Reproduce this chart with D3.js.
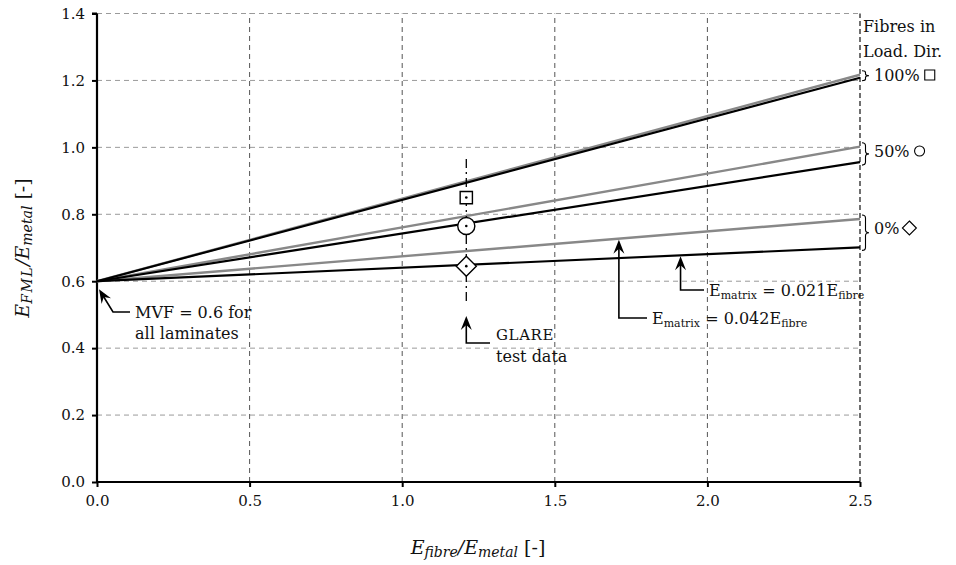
<!DOCTYPE html>
<html>
<head>
<meta charset="utf-8">
<script src="https://cdn.jsdelivr.net/npm/d3@7"></script>
<style>
  html, body { margin: 0; padding: 0; background: #fff; }
</style>
</head>
<body>
<svg id="chart" width="956" height="565"></svg>
<script>
// Stiffness of fibre metal laminates vs. fibre/metal modulus ratio (MVF = 0.6)
const xTicks = [0.0, 0.5, 1.0, 1.5, 2.0, 2.5];
const yTicks = [0.0, 0.2, 0.4, 0.6, 0.8, 1.0, 1.2, 1.4];
const ratioRange = [0, 2.5];
const startValue = 0.6;
const fibreShares = ["100%", "50%", "0%"];
const shareSymbols = ["square", "circle", "diamond"];
// end values at E_fibre/E_metal = 2.5
const endMatrix042 = [1.217, 1.002, 0.786];  // grey lines
const endMatrix021 = [1.208, 0.956, 0.701];  // black lines
// GLARE measurements
const glareRatio = 1.21;
const glareValues = [0.85, 0.765, 0.645];

const FONT = "DejaVu Serif";
const svg = d3.select("#chart");
const x = d3.scaleLinear().domain([0, 2.5]).range([97, 860]);
const y = d3.scaleLinear().domain([0, 1.4]).range([482, 13.5]);

// grid
svg.append("g").selectAll("line").data(yTicks.filter(d => d > 0)).join("line")
  .attr("x1", x(0)).attr("x2", x(2.5))
  .attr("y1", d => y(d)).attr("y2", d => y(d))
  .attr("stroke", "#9a9a9a").attr("stroke-width", 1).attr("stroke-dasharray", "5,4");
svg.append("g").selectAll("line").data(xTicks.filter(d => d > 0 && d < 2.5)).join("line")
  .attr("x1", d => x(d)).attr("x2", d => x(d))
  .attr("y1", y(0)).attr("y2", y(1.4))
  .attr("stroke", "#555").attr("stroke-width", 1).attr("stroke-dasharray", "5,4");
svg.append("line")
  .attr("x1", x(2.5)).attr("x2", x(2.5)).attr("y1", y(0)).attr("y2", y(1.4))
  .attr("stroke", "#111").attr("stroke-width", 1.2).attr("stroke-dasharray", "5,3");

// axes
const xAxis = svg.append("g").attr("transform", `translate(0,${y(0)})`)
  .call(d3.axisBottom(x).tickValues(xTicks).tickFormat(d3.format(".1f")).tickSize(5).tickPadding(8));
const yAxis = svg.append("g").attr("transform", `translate(${x(0)},0)`)
  .call(d3.axisLeft(y).tickValues(yTicks).tickFormat(d3.format(".1f")).tickSize(5).tickPadding(7));
[xAxis, yAxis].forEach(g => {
  g.attr("font-family", FONT).attr("font-size", 15);
  g.select(".domain").attr("stroke", "#000").attr("stroke-width", 2.2);
  g.selectAll(".tick line").attr("stroke", "#000").attr("stroke-width", 2);
  g.selectAll(".tick text").attr("fill", "#111");
});
yAxis.select(".domain").attr("d", `M0,${y(1.4)}H-5M0,${y(1.4)}V${y(0)}`);
xAxis.select(".domain").attr("d", `M${x(0)},0H${x(2.5)}`);

// model lines
const line = d3.line().x(d => x(d[0])).y(d => y(d[1]));
svg.append("g").selectAll("path").data(endMatrix042).join("path")
  .attr("d", d => line([[ratioRange[0], startValue], [ratioRange[1], d]]))
  .attr("fill", "none").attr("stroke", "#888").attr("stroke-width", 2.4);
svg.append("g").selectAll("path").data(endMatrix021).join("path")
  .attr("d", d => line([[ratioRange[0], startValue], [ratioRange[1], d]]))
  .attr("fill", "none").attr("stroke", "#000").attr("stroke-width", 2.2);

// GLARE test data
svg.append("line")
  .attr("x1", x(glareRatio)).attr("x2", x(glareRatio))
  .attr("y1", y(0.965)).attr("y2", y(0.535))
  .attr("stroke", "#000").attr("stroke-width", 1.3).attr("stroke-dasharray", "9,4,2,4");
const sym = d3.symbol();
const glareSizes = [150, 230, 200];
svg.append("g").selectAll("path").data(glareValues).join("path")
  .attr("transform", d => `translate(${x(glareRatio)},${y(d)})`)
  .attr("d", (d, i) => {
    if (i === 0) return sym.type(d3.symbolSquare).size(glareSizes[i])();
    if (i === 1) return sym.type(d3.symbolCircle).size(glareSizes[i])();
    return "M0,-10L10,0L0,10L-10,0Z";
  })
  .attr("fill", "#fff").attr("stroke", "#000").attr("stroke-width", 1.4);
svg.append("g").selectAll("circle").data(glareValues).join("circle")
  .attr("cx", x(glareRatio)).attr("cy", d => y(d)).attr("r", 1.3).attr("fill", "#000");

// arrow helper: polyline ending in a filled arrowhead at the first point
function arrow(points) {
  const [p0, p1] = points;
  const ang = Math.atan2(p0[1] - p1[1], p0[0] - p1[0]);
  svg.append("path")
    .attr("d", d3.line()(points.map((p, i) => i === 0 ? [p0[0] - 8 * Math.cos(ang), p0[1] - 8 * Math.sin(ang)] : p)))
    .attr("fill", "none").attr("stroke", "#000").attr("stroke-width", 1.6);
  const L = 14, W = 5.5, back = 9;
  const c = Math.cos(ang), s = Math.sin(ang);
  const tip = p0;
  const l = [tip[0] - L * c + W * s, tip[1] - L * s - W * c];
  const r = [tip[0] - L * c - W * s, tip[1] - L * s + W * c];
  const m = [tip[0] - back * c, tip[1] - back * s];
  svg.append("path").attr("d", `M${tip}L${l}L${m}L${r}Z`).attr("fill", "#000");
}

// MVF note
arrow([[x(0) + 2, y(startValue) + 8], [113, 312], [130, 312]]);
svg.append("text").attr("x", 135).attr("y", 318).attr("font-size", 16).text("MVF = 0.6 for");
svg.append("text").attr("x", 135).attr("y", 339).attr("font-size", 16).text("all laminates");

// GLARE note
arrow([[x(glareRatio), 316], [x(glareRatio), 343], [490, 343]]);
svg.append("text").attr("x", 496).attr("y", 340).attr("font-size", 15).attr("letter-spacing", 0.6)
  .text("GLARE").style("font-variant", "small-caps");
svg.append("text").attr("x", 496).attr("y", 362).attr("font-size", 16).text("test data");

// matrix stiffness notes
function matrixLabel(px, py, factor) {
  const t = svg.append("text").attr("x", px).attr("y", py).attr("font-size", 16);
  t.append("tspan").text("E");
  t.append("tspan").attr("font-size", 11).attr("dy", 3).text("matrix");
  t.append("tspan").attr("dy", -3).text(` = ${factor}E`);
  t.append("tspan").attr("font-size", 11).attr("dy", 3).text("fibre");
}
const at021 = 1.912, at042 = 1.71;
const lineAt = (end, r) => startValue + (end - startValue) * r / ratioRange[1];
arrow([[x(at021), y(lineAt(endMatrix021[2], at021)) + 1], [x(at021), 290], [704, 290]]);
matrixLabel(709, 296, "0.021");
arrow([[x(at042), y(lineAt(endMatrix042[2], at042)) + 1], [x(at042), 318], [647, 318]]);
matrixLabel(652, 324, "0.042");

// fibre orientation legend
svg.append("text").attr("x", 863).attr("y", 32).attr("font-size", 16).text("Fibres in");
svg.append("text").attr("x", 863).attr("y", 57).attr("font-size", 16).text("Load. Dir.");
function brace(xp, y0, y1) {
  const ym = (y0 + y1) / 2, w = 3.5;
  const r = Math.min(3, (y1 - y0) / 6);
  return `M${xp},${y0}Q${xp + w},${y0} ${xp + w},${y0 + r}` +
         `L${xp + w},${ym - r}Q${xp + w},${ym} ${xp + 2 * w},${ym}` +
         `Q${xp + w},${ym} ${xp + w},${ym + r}` +
         `L${xp + w},${y1 - r}Q${xp + w},${y1} ${xp},${y1}`;
}
const legendText = [81, 157, 234];
fibreShares.forEach((label, i) => {
  const yTop = y(endMatrix042[i]) - 4, yBot = y(endMatrix021[i]) + 3;
  svg.append("path").attr("d", brace(x(2.5) + 2, yTop, yBot))
    .attr("fill", "none").attr("stroke", "#000").attr("stroke-width", 1.1);
  const t = svg.append("text").attr("x", 874).attr("y", legendText[i]).attr("font-size", 16)
    .style("font-family", FONT).text(label);
  const w = t.node().getComputedTextLength();
  const cx = 874 + w + 10, cy = legendText[i] - 6;
  let d;
  if (shareSymbols[i] === "square") d = `M${cx - 5},${cy - 5}h10v10h-10Z`;
  else if (shareSymbols[i] === "circle") d = `M${cx + 5},${cy}A5,5 0 1,1 ${cx - 5},${cy}A5,5 0 1,1 ${cx + 5},${cy}`;
  else d = `M${cx},${cy - 7}L${cx + 7},${cy}L${cx},${cy + 7}L${cx - 7},${cy}Z`;
  svg.append("path").attr("d", d).attr("fill", "none").attr("stroke", "#000").attr("stroke-width", 1.1);
});

// axis titles
const xt = svg.append("text").attr("x", 478).attr("y", 554).attr("text-anchor", "middle").attr("font-size", 19);
xt.append("tspan").attr("font-style", "italic").text("E");
xt.append("tspan").attr("font-style", "italic").attr("font-size", 14).attr("dy", 3).text("fibre");
xt.append("tspan").attr("font-style", "italic").attr("dy", -3).text("/E");
xt.append("tspan").attr("font-style", "italic").attr("font-size", 14).attr("dy", 3).text("metal");
xt.append("tspan").attr("dy", -3).text("  [-]");

const yt = svg.append("text").attr("transform", "translate(29,248) rotate(-90)")
  .attr("text-anchor", "middle").attr("font-size", 19);
yt.append("tspan").attr("font-style", "italic").text("E");
yt.append("tspan").attr("font-style", "italic").attr("font-size", 14).attr("dy", 3).attr("letter-spacing", 1.5).text("FML");
yt.append("tspan").attr("font-style", "italic").attr("dy", -3).text("/E");
yt.append("tspan").attr("font-style", "italic").attr("font-size", 14).attr("dy", 3).text("metal");
yt.append("tspan").attr("dy", -3).text("  [-]");

// serif typeface for every label
svg.selectAll("text").attr("font-family", FONT).style("font-family", FONT).style("fill", "#111");
</script>
</body>
</html>
